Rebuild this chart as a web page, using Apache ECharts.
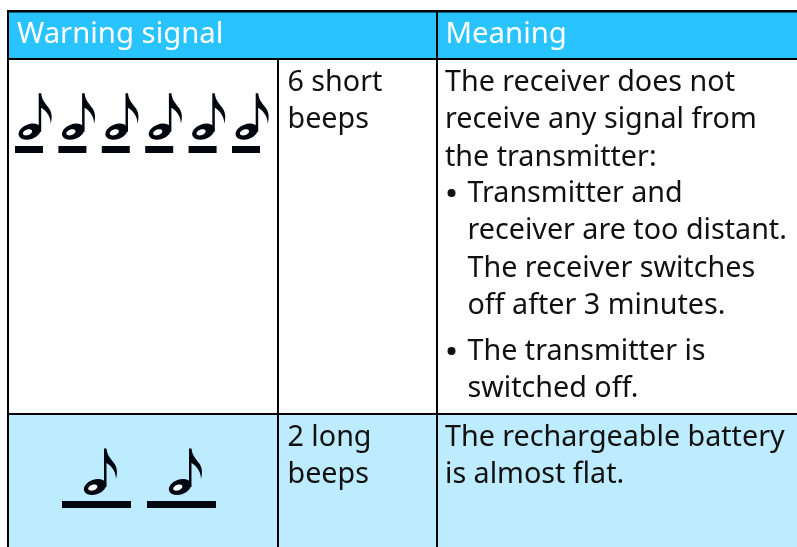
<!DOCTYPE html>
<html>
<head>
<meta charset="utf-8">
<style>
html, body { margin: 0; padding: 0; background: #fff; }
#main { width: 797px; height: 547px; }
</style>
<script src="https://cdn.jsdelivr.net/npm/echarts@6/dist/echarts.min.js"></script>
</head>
<body>
<div id="main"></div>
<script>
// table content
var headers = ['Warning signal', 'Meaning'];
var shortBeepLabel = ['6 short', 'beeps'];
var longBeepLabel = ['2 long', 'beeps'];
var shortBeepCount = 6;
var longBeepCount = 2;
var shortMeaning = ['The receiver does not', 'receive any signal from', 'the transmitter:'];
var shortBullets = [
    ['Transmitter and', 'receiver are too distant.', 'The receiver switches', 'off after 3 minutes.'],
    ['The transmitter is', 'switched off.']
];
var longMeaning = ['The rechargeable battery', 'is almost flat.'];

var FONT = '"Noto Sans", sans-serif';
var LINE = 37.2;
var INK = '#02060f';
// stem and flag, the head is drawn separately
var NOTE_PATH = 'M9,0 L9,-38.5 L11.5,-38.5 C12,-32 16,-28 19,-24 C22,-20 23,-15 21,-8 C21,-14 18,-20 11.5,-24 L11.5,0 Z';
var els = [];

function rect(x, y, w, h, fill) {
    els.push({ type: 'rect', shape: { x: x, y: y, width: w, height: h }, style: { fill: fill }, silent: true });
}
function label(str, x, y, size, color) {
    els.push({
        type: 'text', x: x, y: y, silent: true,
        style: { text: str, font: '400 ' + size + 'px ' + FONT, fill: color, textVerticalAlign: 'middle' }
    });
}
function lines(arr, x, y) {
    arr.forEach(function (s, i) { label(s, x, y + i * LINE, 28.7, '#111111'); });
}

// backgrounds
rect(8, 11, 789, 48, '#29c3ff');
rect(8, 414, 789, 133, '#bdebff');
// rules
rect(7, 10, 790, 2.4, '#000000');
rect(7, 58, 790, 2, '#000000');
rect(7, 413, 790, 2, '#000000');
rect(7, 10, 2, 537, '#000000');
rect(436, 10, 2, 537, '#000000');
rect(277, 59, 2, 488, '#000000');

// header
label(headers[0], 17, 34.5, 29.3, '#ffffff');
label(headers[1], 445.5, 34.5, 29.3, '#ffffff');

// body text
lines(shortBeepLabel, 287.5, 83);
lines(longBeepLabel, 287.5, 438);
lines(shortMeaning, 445, 83);
els.push({ type: 'circle', silent: true, shape: { cx: 451.5, cy: 193, r: 4 }, style: { fill: '#111111' } });
lines(shortBullets[0], 467.5, 194);
els.push({ type: 'circle', silent: true, shape: { cx: 451.5, cy: 351, r: 4 }, style: { fill: '#111111' } });
lines(shortBullets[1], 467.5, 352);
lines(longMeaning, 445, 438);

// beep symbols: [bar left, bar width, note head centre offset, head y, bar y]
var beeps = [];
for (var i = 0; i < shortBeepCount; i++) beeps.push([15 + i * 43.4, 28, 14.7, 131.7, 146]);
for (var j = 0; j < longBeepCount; j++) beeps.push([62 + j * 85, 69, 33, 487, 501]);

function renderBeep(params, api) {
    var x = api.value(0), w = api.value(1), hx = x + api.value(2), hy = api.value(3), by = api.value(4);
    return {
        type: 'group',
        silent: true,
        children: [
            { type: 'rect', shape: { x: x, y: by, width: w, height: 7 }, style: { fill: INK } },
            { type: 'path', x: hx, y: hy, shape: { pathData: NOTE_PATH, layout: 'cover', x: 9, y: -38.5, width: 13, height: 38.5 }, style: { fill: INK } },
            { type: 'ellipse', x: hx, y: hy, rotation: 0.35, shape: { cx: 0, cy: 0, rx: 11.5, ry: 7.5 }, style: { fill: INK } },
            { type: 'ellipse', x: hx - 2.2, y: hy + 0.6, rotation: 0.35, shape: { cx: 0, cy: 0, rx: 4.8, ry: 2.8 }, style: { fill: '#ffffff' } }
        ]
    };
}

var chart = echarts.init(document.getElementById('main'), null, { renderer: 'canvas' });
chart.setOption({
    animation: false,
    backgroundColor: '#ffffff',
    graphic: { elements: els },
    series: [{
        type: 'custom',
        coordinateSystem: 'none',
        renderItem: renderBeep,
        encode: { tooltip: [] },
        data: beeps
    }]
});
</script>
</body>
</html>
